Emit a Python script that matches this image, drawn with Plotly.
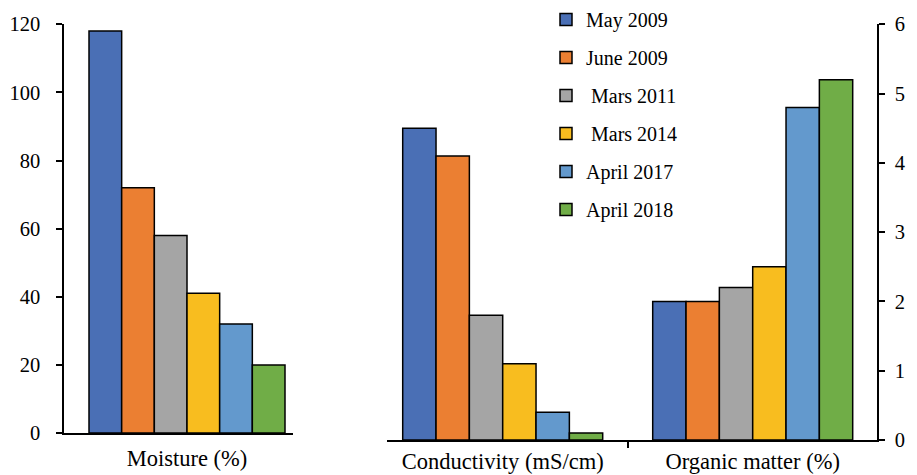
import plotly.graph_objects as go

# ---- data ----
series_names = ["May 2009", "June 2009", "\u00a0Mars 2011", "\u00a0Mars 2014", "April 2017", "April 2018"]
colors = ["#4A6FB5", "#EB7F32", "#A5A5A5", "#F8BD1F", "#6399CD", "#70AD47"]

left_category = ["Moisture (%)"]
moisture = [118, 72, 58, 41, 32, 20]

right_categories = ["Conductivity (mS/cm)", "Organic matter (%)"]
conductivity = [4.5, 4.1, 1.8, 1.1, 0.4, 0.1]
organic_matter = [2.0, 2.0, 2.2, 2.5, 4.8, 5.2]

left_ticks = [0, 20, 40, 60, 80, 100, 120]
right_ticks = [0, 1, 2, 3, 4, 5, 6]

W, H = 917, 475
FONT = "Liberation Serif, Times New Roman, serif"

fig = go.Figure()
for i, name in enumerate(series_names):
    fig.add_trace(go.Bar(
        x=left_category, y=[moisture[i]], name=name,
        marker=dict(color=colors[i], line=dict(color="black", width=1.5)),
        xaxis="x", yaxis="y", legendgroup=name, showlegend=True,
    ))
    fig.add_trace(go.Bar(
        x=right_categories, y=[conductivity[i], organic_matter[i]], name=name,
        marker=dict(color=colors[i], line=dict(color="black", width=1.5)),
        xaxis="x2", yaxis="y2", legendgroup=name, showlegend=False,
    ))

axis_common = dict(showgrid=False, zeroline=False, showline=True, linecolor="black",
                   linewidth=1.5, automargin=False, color="black")

fig.update_layout(
    width=W, height=H,
    margin=dict(l=0, r=0, t=0, b=0),
    paper_bgcolor="white", plot_bgcolor="rgba(0,0,0,0)",
    font=dict(family=FONT, color="black", size=20),
    barmode="group", bargap=0.2, bargroupgap=0,
    showlegend=True,
    legend=dict(x=546 / W, y=1, xanchor="left", yanchor="top",
                font=dict(family=FONT, size=20, color="black"),
                tracegroupgap=9, bgcolor="rgba(0,0,0,0)", itemwidth=30),
    xaxis=dict(axis_common, domain=[64 / W, 292.7 / W], anchor="y",
               range=[-123 / 245, 105.7 / 245], ticks="",
               tickfont=dict(family=FONT, size=22.5), ticklabelstandoff=4),
    yaxis=dict(axis_common, domain=[1 - 433 / H, 1 - 24.3 / H], anchor="x",
               range=[0, 120], tickvals=left_ticks, ticks="outside", ticklen=6,
               tickwidth=1.5, tickcolor="black", tickfont=dict(family=FONT, size=20.5),
               ticklabelstandoff=12),
    xaxis2=dict(axis_common, domain=[387 / W, 877 / W], anchor="y2",
                range=[-115.7 / 250, 374.3 / 250], ticks="outside", tickson="boundaries",
                ticklen=6, tickwidth=1.5, tickcolor="black",
                tickfont=dict(family=FONT, size=22.5), ticklabelstandoff=0),
    yaxis2=dict(axis_common, domain=[1 - 440 / H, 1 - 24.3 / H], anchor="x2", side="right",
                range=[0, 6], tickvals=right_ticks, ticks="outside", ticklen=6,
                tickwidth=1.5, tickcolor="black", tickfont=dict(family=FONT, size=20.5),
                ticklabelstandoff=6),
)

fig.write_html("out.html", config={"displayModeBar": False},
               post_script="document.body.style.margin='0';")
